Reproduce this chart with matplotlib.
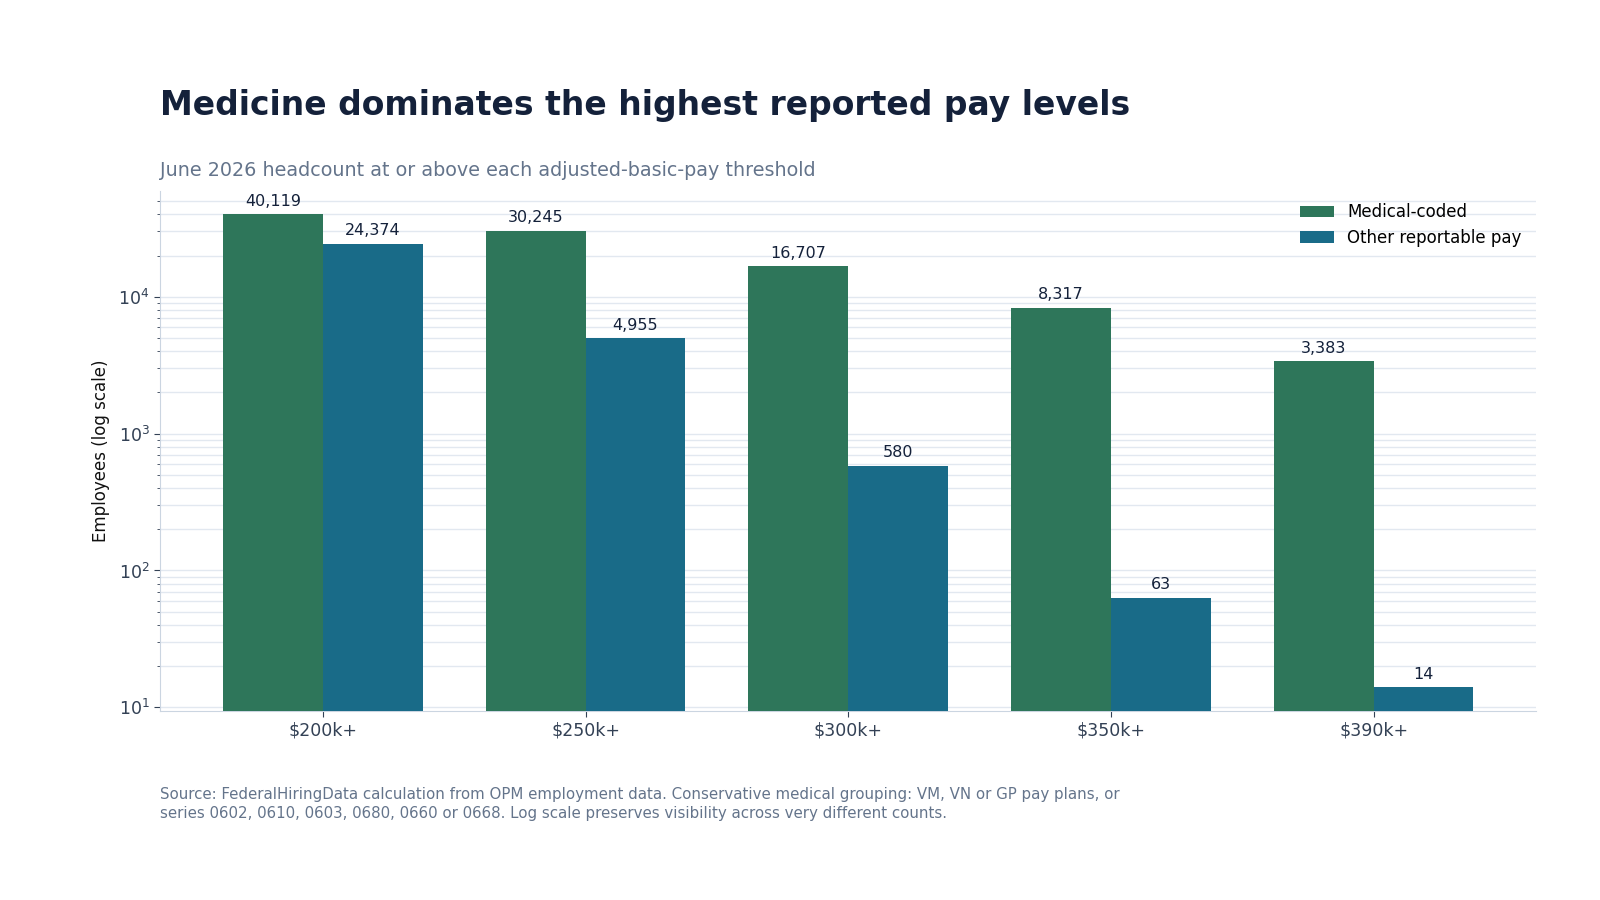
import matplotlib
matplotlib.use("Agg")
import matplotlib.pyplot as plt
import numpy as np

plt.rcParams["font.family"] = ["DejaVu Sans"]

categories = ["$200k+", "$250k+", "$300k+", "$350k+", "$390k+"]
medical = [40119, 30245, 16707, 8317, 3383]
other = [24374, 4955, 580, 63, 14]
series_names = ["Medical-coded", "Other reportable pay"]

GREEN = "#2E765A"
BLUE = "#196B88"
NAVY = "#14213A"
GREY = "#64748B"
TICK = "#334155"
GRID = "#E2E8F0"
SPINE = "#CBD5E1"

fig = plt.figure(figsize=(16, 9), dpi=100)
ax = fig.add_axes([0.100, 0.210, 0.8603, 0.578])

x = np.arange(len(categories))
w = 0.38
b1 = ax.bar(x - w / 2, medical, w, color=GREEN, label=series_names[0], zorder=3)
b2 = ax.bar(x + w / 2, other, w, color=BLUE, label=series_names[1], zorder=3)

ax.set_yscale("log")
ax.set_ylim(9.4, 59400)
ax.set_xlim(-0.62, len(categories) - 1 + 0.62)
ax.set_xticks(x)
ax.set_xticklabels(categories)

for bars, vals in ((b1, medical), (b2, other)):
    for rect, v in zip(bars, vals):
        ax.annotate(f"{v:,}", (rect.get_x() + rect.get_width() / 2, v),
                    xytext=(0, 4), textcoords="offset points",
                    ha="center", va="bottom", fontsize=11.5, color=NAVY, zorder=4)

ax.grid(True, which="both", axis="y", color=GRID, linewidth=1, zorder=0)
ax.set_axisbelow(True)
for s in ("top", "right"):
    ax.spines[s].set_visible(False)
for s in ("left", "bottom"):
    ax.spines[s].set_color(SPINE)
ax.tick_params(axis="both", which="major", labelsize=12.5, colors=TICK, length=4)
ax.tick_params(axis="y", which="minor", length=2, color=TICK)
for lbl in ax.get_xticklabels() + ax.get_yticklabels():
    lbl.set_color(TICK)
ax.set_ylabel("Employees (log scale)", fontsize=12, color="#111111", labelpad=6)

ax.legend(loc="upper right", frameon=False, fontsize=12, handlelength=2.0,
          bbox_to_anchor=(1.0, 1.005), labelspacing=0.45)

fig.text(0.100, 0.883, "Medicine dominates the highest reported pay levels",
         fontsize=23.75, fontweight="bold", color=NAVY, ha="left", va="center")
fig.text(0.100, 0.810, "June 2026 headcount at or above each adjusted-basic-pay threshold",
         fontsize=13.75, color=GREY, ha="left", va="center")
fig.text(0.100, 0.125,
         "Source: FederalHiringData calculation from OPM employment data. Conservative medical grouping: VM, VN or GP pay plans, or\n"
         "series 0602, 0610, 0603, 0680, 0660 or 0668. Log scale preserves visibility across very different counts.",
         fontsize=10.85, color=GREY, ha="left", va="top", linespacing=1.28)

fig.savefig("out.png", dpi=100)
